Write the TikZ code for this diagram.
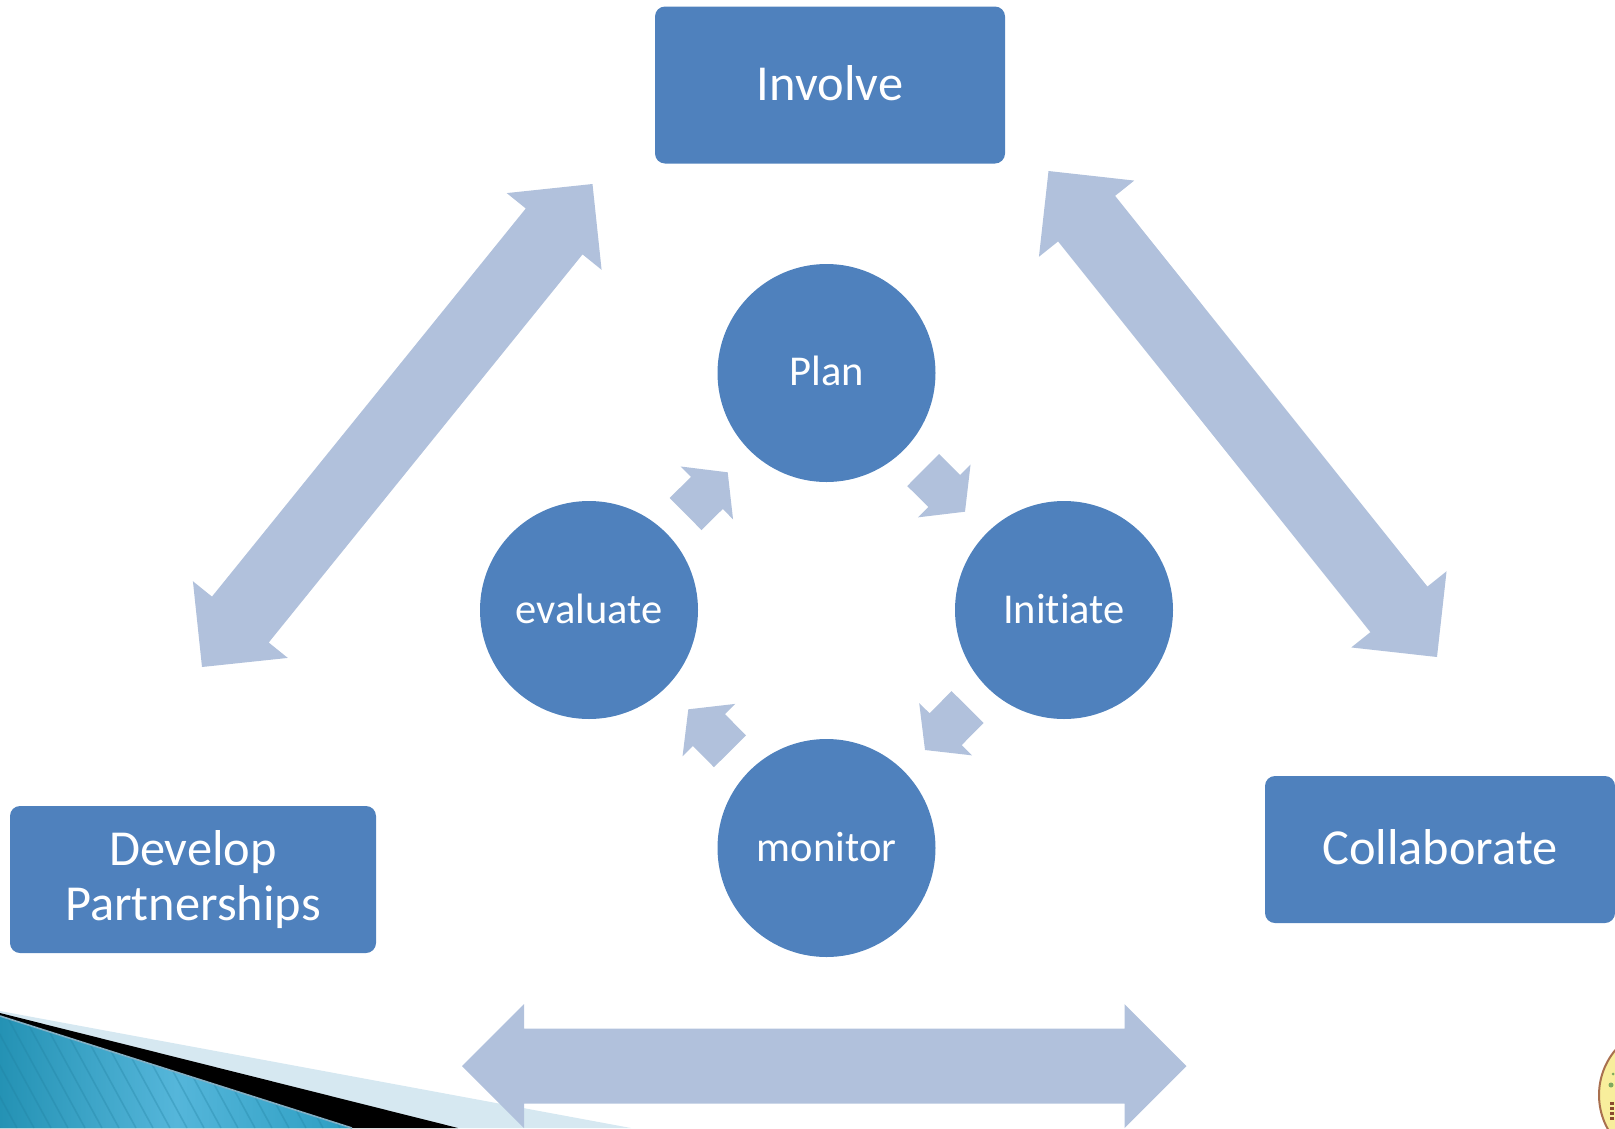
\documentclass[tikz,border=0pt]{standalone}
\usepackage{fontspec}
\setmainfont{Carlito}[RawFeature={-liga;-dlig;-clig}]
\usetikzlibrary{calc}
\definecolor{boxblue}{HTML}{4F81BD}
\definecolor{arrowblue}{HTML}{B1C1DC}
\definecolor{band}{HTML}{D6E8F1}
\definecolor{tealdark}{HTML}{2492B4}
\definecolor{teallight}{HTML}{55B6DA}
\definecolor{tealright}{HTML}{2C9EC2}
\definecolor{stripe}{HTML}{1F7F9F}
\definecolor{rimline}{HTML}{82AFC4}
\definecolor{logofill}{HTML}{F8EE9C}
\definecolor{logorim}{HTML}{A9704F}
\definecolor{logogreen}{HTML}{7FA860}
\definecolor{logotext}{HTML}{8A4A30}
\tikzset{
 termbox/.style={fill=boxblue,rounded corners=10pt,text=white,font=\fontsize{50.4}{55}\selectfont,align=center,minimum width=#1,minimum height=147pt,inner sep=0pt},
 termbox/.default=350pt,
 stage/.style={circle,fill=boxblue,text=white,font=\fontsize{42.5}{46}\selectfont,minimum size=218pt,inner sep=0pt},
 blockfill/.style={fill=arrowblue}
}
% double block arrow: tips #1,#2 ; head length #3, head half width #4, shaft half width #5
\newcommand\dblblock[5]{%
 \fill[blockfill] (#1)
 -- ($(#1)!#3!(#2)!#4!90:(#2)$) -- ($(#1)!#3!(#2)!#5!90:(#2)$)
 -- ($(#2)!#3!(#1)!#5!-90:(#1)$) -- ($(#2)!#3!(#1)!#4!-90:(#1)$)
 -- (#2)
 -- ($(#2)!#3!(#1)!#4!90:(#1)$) -- ($(#2)!#3!(#1)!#5!90:(#1)$)
 -- ($(#1)!#3!(#2)!#5!-90:(#2)$) -- ($(#1)!#3!(#2)!#4!-90:(#2)$)
 -- cycle;}
% single block arrow from tail #1 to tip #2
\newcommand\oneblock[5]{%
 \fill[blockfill] (#2)
 -- ($(#2)!#3!(#1)!#4!90:(#1)$) -- ($(#2)!#3!(#1)!#5!90:(#1)$)
 -- ($(#1)!#5!-90:(#2)$) -- ($(#1)!#5!90:(#2)$)
 -- ($(#2)!#3!(#1)!#5!-90:(#1)$) -- ($(#2)!#3!(#1)!#4!-90:(#1)$)
 -- cycle;}
\begin{document}
\begin{tikzpicture}[x=1pt,y=-1pt]
\useasboundingbox (0,0) rectangle (1615,1128);
% banner
\fill[band] (0,1011) -- (631,1128) -- (0,1128) -- cycle;
\fill[black] (0,1013) -- (458,1128) -- (0,1128) -- cycle;
\begin{scope}
 \clip (0,1016) -- (352,1128) -- (0,1128) -- cycle;
 \shade[left color=tealdark,right color=tealright,middle color=teallight] (0,1000) rectangle (352,1128);
 \foreach \i in {0,17,...,425}{
  \draw[stripe,opacity=.3,line width=1.6pt] (\i-70,1000) -- (\i,1128);
 }
\end{scope}
\draw[rimline,line width=1.6pt] (0,1016) -- (352,1128);
% logo
\begin{scope}
 \clip (0,0) rectangle (1615,1128);
 \fill[logofill,draw=logorim,line width=2pt] (1669,1095) circle (70);
 \fill[logogreen] (1611,1085) circle (2.5);
 \fill[logogreen] (1613,1074) circle (1.5);
 \foreach \yy in {1102,1107,1112,1117}{
  \fill[logotext] (1610,\yy) rectangle (1613.5,\yy+3);
 }
\end{scope}
% nodes
\node[termbox=350pt,minimum height=157pt] (involve) at (830,85) {\raisebox{3.5pt}{Involve}};
\node[termbox=366pt] (develop) at (193,879.5) {\raisebox{-2.5pt}{Develop}\\\raisebox{-2pt}{Partnerships}};
\node[termbox=350pt] (collab) at (1440,849.5) {\raisebox{4.5pt}{Collaborate}};
\node[stage] (plan) at (826.5,373) {\raisebox{4pt}{Plan}};
\node[stage] (initiate) at (1064,610) {\raisebox{1.5pt}{Initiate}};
\node[stage] (monitor) at (826.5,848) {\raisebox{3pt}{monitor}};
\node[stage] (evaluate) at (589,610) {\raisebox{2.5pt}{evaluate}};
% big arrows
\coordinate (ia) at (592.5,184); \coordinate (da) at (202,667);
\coordinate (ib) at (1048.5,171); \coordinate (cb) at (1437,657);
\coordinate (dc) at (462,1066); \coordinate (cc) at (1186.5,1066);
\dblblock{ia}{da}{61pt}{61pt}{36.5pt}
\dblblock{ib}{cb}{61pt}{61pt}{36.5pt}
\dblblock{dc}{cc}{62pt}{62pt}{37.5pt}
% small arrows
\coordinate (e1) at (685.6,514); \coordinate (p1) at (727.7,472.3);
\coordinate (p2) at (923.2,470); \coordinate (n2) at (965,511.7);
\coordinate (n3) at (967.6,707); \coordinate (m3) at (925,750);
\coordinate (m4) at (730,751.3); \coordinate (e4) at (688.3,709.3);
\oneblock{e1}{p1}{29.3pt}{37.2pt}{22.6pt}
\oneblock{p2}{n2}{29.3pt}{37.2pt}{22.6pt}
\oneblock{n3}{m3}{29.3pt}{37.2pt}{22.6pt}
\oneblock{m4}{e4}{29.3pt}{37.2pt}{22.6pt}
\end{tikzpicture}
\end{document}
